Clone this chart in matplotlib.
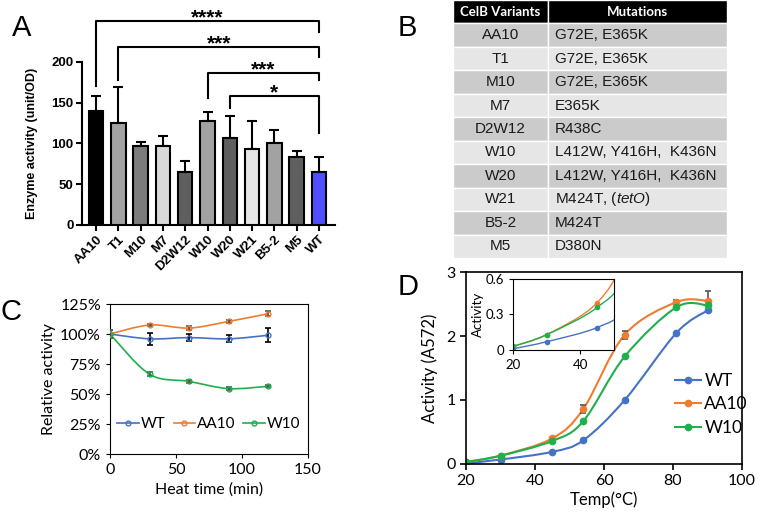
import numpy as np
import matplotlib
matplotlib.use('Agg')
import matplotlib.pyplot as plt
from matplotlib.path import Path
from matplotlib.patches import PathPatch, Rectangle
from matplotlib.lines import Line2D

plt.rcParams['mathtext.fontset'] = 'custom'
plt.rcParams['mathtext.rm'] = 'Liberation Sans'
plt.rcParams['mathtext.it'] = 'Liberation Sans:italic'

# ---- panel A data
variants = ['AA10', 'T1', 'M10', 'M7', 'D2W12', 'W10', 'W20', 'W21', 'B5-2', 'M5', 'WT']
activity = [140, 125, 97, 97, 65, 128, 107, 93, 101, 83, 65]
activity_err = [18, 44, 5, 12, 14, 10, 27, 35, 16, 8, 18]
bar_colors = ['#000000', '#a2a2a2', '#7c7c7c', '#d9d9d9', '#5f5f5f', '#a2a2a2',
              '#5f5f5f', '#e6e6e6', '#a2a2a2', '#5f5f5f', '#4f4fff']
# significance brackets: (left bar, right bar, height, left leg end, right leg end, label)
sig_left = [0, 1, 5, 6]
sig_right = [10, 10, 10, 10]
sig_height = [250, 218, 186, 158]
sig_left_end = [170, 178, 156, 144]
sig_right_end = [237, 206, 178, 113]
sig_labels = ['****', '***', '***', '*']

# ---- panel B data
table_header = ['CelB Variants', 'Mutations']
table_variants = ['AA10', 'T1', 'M10', 'M7', 'D2W12', 'W10', 'W20', 'W21', 'B5-2', 'M5']
table_mutations = ['G72E, E365K', 'G72E, E365K', 'G72E, E365K', 'E365K', 'R438C',
                   'L412W, Y416H,  K436N', 'L412W, Y416H,  K436N',
                   r'M424T, ($\it{tetO}$)', 'M424T', 'D380N']

# ---- panel C data
heat_time = [0, 30, 60, 90, 120]
rel_wt = [100, 96, 97, 96, 99]
rel_wt_err = [3, 5, 3, 3, 6]
rel_aa10 = [100, 107.5, 105, 110.5, 117]
rel_aa10_err = [3, 1, 2, 1, 2]
rel_w10 = [100, 66.5, 60.5, 54.5, 56.5]
rel_w10_err = [3, 1.5, 1.5, 1.2, 1]

# ---- panel D data
temp = [20, 30, 45, 54, 66, 81, 90]
act_wt = [0.01, 0.07, 0.19, 0.37, 1.0, 2.05, 2.4]
act_aa10 = [0.03, 0.13, 0.4, 0.86, 2.02, 2.53, 2.55]
act_aa10_err = [0, 0, 0, 0.06, 0.06, 0.03, 0.15]
act_w10 = [0.03, 0.13, 0.36, 0.67, 1.68, 2.45, 2.48]

blue = '#4472c4'
orange = '#ed7d31'
green = '#1db04b'


def smooth_path(x, y):
    # Excel-like smoothed line as cubic bezier through the data points
    pts = np.column_stack([x, y]).astype(float)
    n = len(pts)
    verts = [pts[0]]
    codes = [Path.MOVETO]
    for i in range(n - 1):
        p0 = pts[i - 1] if i > 0 else pts[i]
        p1 = pts[i]
        p2 = pts[i + 1]
        p3 = pts[i + 2] if i + 2 < n else pts[i + 1]
        verts += [p1 + (p2 - p0) / 6, p2 - (p3 - p1) / 6, p2]
        codes += [Path.CURVE4] * 3
    return Path(verts, codes)


fig = plt.figure(figsize=(7.58, 5.14), dpi=100)

# ================= A
axA = fig.add_axes([0.1082, 0.5623, 0.3338, 0.4377])
xA = np.arange(len(variants))
axA.bar(xA, activity, width=0.65, color=bar_colors, edgecolor='black', linewidth=1.5, zorder=3)
axA.errorbar(xA, activity, yerr=[np.zeros(len(xA)), activity_err], fmt='none',
             ecolor='black', elinewidth=1.5, capsize=3.5, capthick=1.5, zorder=2)
for i in range(len(sig_labels)):
    l, r, h = sig_left[i], sig_right[i], sig_height[i]
    axA.plot([l, l, r, r], [sig_left_end[i], h, h, sig_right_end[i]], color='black',
             lw=1.5, clip_on=False)
    axA.text((l + r) / 2, h - 2.5, sig_labels[i], ha='center', va='baseline',
             fontsize=15, fontweight='bold', family='Liberation Sans')
axA.set_xlim(-0.63, 10.72)
axA.set_ylim(0, 276)
axA.set_yticks([0, 50, 100, 150, 200])
axA.spines['left'].set_bounds(0, 200)
axA.spines['top'].set_visible(False)
axA.spines['right'].set_visible(False)
axA.spines['left'].set_linewidth(1.5)
axA.spines['bottom'].set_linewidth(1.5)
axA.tick_params(width=1.5, length=4, pad=2)
axA.set_xticks(xA)
axA.set_xticklabels(variants, rotation=45, ha='right', rotation_mode='anchor')
for t in axA.get_xticklabels() + axA.get_yticklabels():
    t.set_fontsize(9.5)
    t.set_fontweight('bold')
    t.set_family('Liberation Sans')
axA.set_ylabel('Enzyme activity (unit/OD)', fontsize=9, fontweight='bold',
               family='Liberation Sans')
axA.yaxis.set_label_coords(-0.175, 100 / 276)

# ================= B
axB = fig.add_axes([453 / 758, 1 - 258 / 514, 274 / 758, 258 / 514])
axB.set_xlim(0, 274)
axB.set_ylim(len(table_variants) + 1, 0)
axB.axis('off')
col_split = 95
axB.add_patch(Rectangle((0, 0), col_split, 1, facecolor='black', edgecolor='white', lw=1))
axB.add_patch(Rectangle((col_split, 0), 274 - col_split, 1, facecolor='black',
                        edgecolor='white', lw=1))
axB.text(col_split / 2, 0.5, table_header[0], ha='center', va='center', color='white',
         fontsize=9.5, fontweight='bold', family='Lato')
axB.text((col_split + 274) / 2, 0.5, table_header[1], ha='center', va='center',
         color='white', fontsize=9.5, fontweight='bold', family='Lato')
for i in range(len(table_variants)):
    row = i + 1
    fc = '#cbcbcb' if i % 2 == 0 else '#e6e6e6'
    axB.add_patch(Rectangle((0, row), col_split, 1, facecolor=fc, edgecolor='white', lw=1))
    axB.add_patch(Rectangle((col_split, row), 274 - col_split, 1, facecolor=fc,
                            edgecolor='white', lw=1))
    axB.text(col_split / 2, row + 0.5, table_variants[i], ha='center', va='center',
             fontsize=11, family='Liberation Sans', color='#1a1a1a')
    axB.text(col_split + 7, row + 0.5, table_mutations[i], ha='left', va='center',
             fontsize=11, family='Liberation Sans', color='#1a1a1a')

# ================= C
axC = fig.add_axes([0.1451, 0.1167, 0.2612, 0.2918])
for ys, es, col, ecol in [(rel_wt, rel_wt_err, blue, 'black'),
                          (rel_aa10, rel_aa10_err, orange, '#555555'),
                          (rel_w10, rel_w10_err, green, '#555555')]:
    axC.add_patch(PathPatch(smooth_path(heat_time, ys), fill=False, edgecolor=col,
                            lw=1.2, zorder=2))
    axC.errorbar(heat_time, ys, yerr=es, fmt='none', ecolor=ecol, elinewidth=1.2,
                 capsize=2.5, capthick=1.2, zorder=3)
    axC.plot(heat_time, ys, 'o', ms=3.5, mfc='none', mec=col, mew=1, zorder=4)
axC.set_xlim(0, 150)
axC.set_ylim(0, 125)
axC.set_xticks([0, 50, 100, 150])
axC.set_yticks([0, 25, 50, 75, 100, 125])
axC.set_yticklabels(['{}%'.format(v) for v in [0, 25, 50, 75, 100, 125]])
axC.tick_params(labelsize=11.5, direction='out', length=3)
for t in axC.get_xticklabels() + axC.get_yticklabels():
    t.set_family('Lato')
axC.set_xlabel('Heat time (min)', fontsize=11.5, family='Lato', labelpad=4)
axC.set_ylabel('Relative activity', fontsize=11.5, family='Lato', labelpad=3)
hC = [Line2D([], [], color=c, lw=1.2, marker='o', ms=3.5, mfc='none', mec=c)
      for c in [blue, orange, green]]
axC.legend(hC, ['WT', 'AA10', 'W10'], loc='center', bbox_to_anchor=(0.5, 0.2), ncol=3,
           frameon=False, handlelength=1.4, handletextpad=0.15, columnspacing=0.5,
           prop={'family': 'Lato', 'size': 11})

# ================= D
axD = fig.add_axes([0.6148, 0.0973, 0.3641, 0.3735])
axD.add_patch(PathPatch(smooth_path(temp, act_wt), fill=False, edgecolor=blue, lw=1.5))
axD.add_patch(PathPatch(smooth_path(temp, act_aa10), fill=False, edgecolor=orange, lw=1.5))
axD.add_patch(PathPatch(smooth_path(temp, act_w10), fill=False, edgecolor=green, lw=1.5))
axD.errorbar(temp, act_aa10, yerr=act_aa10_err, fmt='none', ecolor='#555555',
             elinewidth=1.2, capsize=2.5, capthick=1.2)
axD.plot(temp, act_wt, 'o', ms=4.5, color=blue)
axD.plot(temp, act_aa10, 'o', ms=4.5, color=orange)
axD.plot(temp, act_w10, 'o', ms=4.5, color=green)
axD.set_xlim(20, 100)
axD.set_ylim(0, 3)
axD.set_xticks([20, 40, 60, 80, 100])
axD.set_yticks([0, 1, 2, 3])
axD.tick_params(labelsize=11.5, direction='out', length=4, width=1.2)
for s in axD.spines.values():
    s.set_linewidth(1.2)
for t in axD.get_xticklabels() + axD.get_yticklabels():
    t.set_family('Lato')
axD.set_xlabel('Temp(°C)', fontsize=12, family='Lato', labelpad=2)
axD.set_ylabel('Activity (A572)', fontsize=12, family='Lato', labelpad=6)
hD = [Line2D([], [], color=c, lw=1.5, marker='o', ms=4.5) for c in [blue, orange, green]]
axD.legend(hD, ['WT', 'AA10', 'W10'], loc='center left', bbox_to_anchor=(0.7, 0.31),
           frameon=False, handlelength=1.5, handletextpad=0.2, labelspacing=0.45,
           prop={'family': 'Lato', 'size': 12.5})

# inset
axI = fig.add_axes([0.6768, 0.3191, 0.1332, 0.1381])
axI.add_patch(PathPatch(smooth_path(temp, act_wt), fill=False, edgecolor=blue, lw=1))
axI.add_patch(PathPatch(smooth_path(temp, act_aa10), fill=False, edgecolor=orange, lw=1))
axI.add_patch(PathPatch(smooth_path(temp, act_w10), fill=False, edgecolor=green, lw=1))
axI.plot(temp, act_wt, 'o', ms=3, color=blue)
axI.plot(temp, act_aa10, 'o', ms=3, color=orange)
axI.plot(temp, act_w10, 'o', ms=3, color=green)
axI.set_xlim(20, 50)
axI.set_ylim(0, 0.6)
axI.set_xticks([20, 40])
axI.set_yticks([0, 0.3, 0.6])
axI.set_yticklabels(['0', '0.3', '0.6'])
axI.tick_params(labelsize=9.5, direction='out', length=3)
for t in axI.get_xticklabels() + axI.get_yticklabels():
    t.set_family('Lato')
axI.set_ylabel('Activity', fontsize=9.5, family='Lato', labelpad=1)

# panel letters
for letter, px, py in [('A', 12, 28), ('B', 398, 28), ('C', 0, 312), ('D', 398, 287)]:
    fig.text(px / 758, 1 - py / 514, letter, fontsize=21, family='Liberation Sans',
             va='center', ha='left')

fig.savefig('out.png', dpi=100)
